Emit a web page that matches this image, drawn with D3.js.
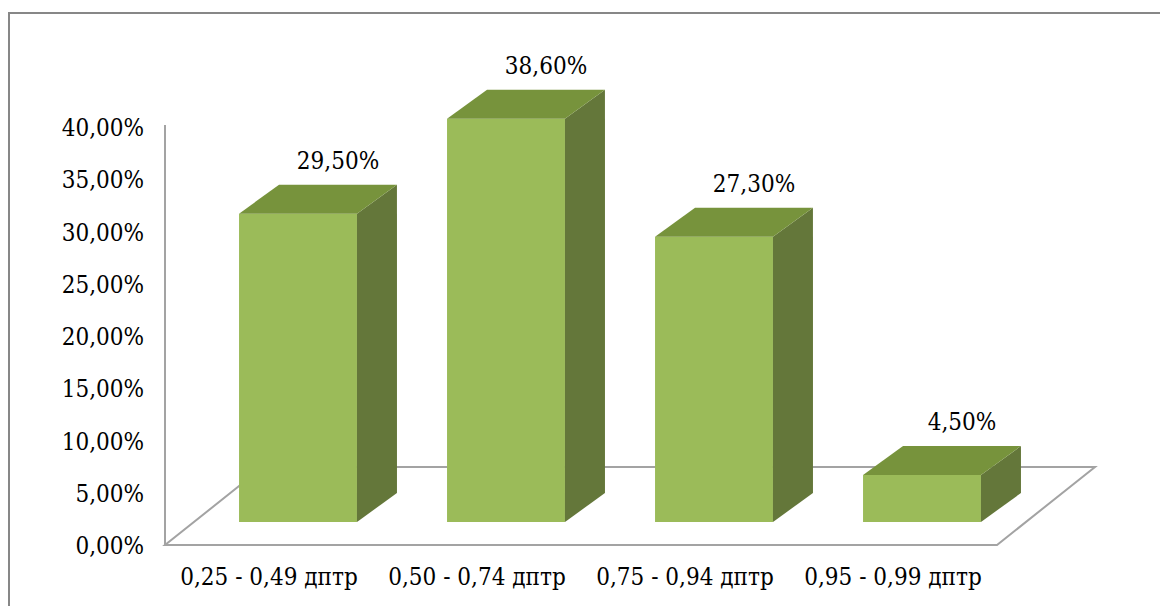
<!DOCTYPE html>
<html>
<head>
<meta charset="utf-8">
<script src="https://cdn.jsdelivr.net/npm/d3@7"></script>
<style>
  html, body { margin: 0; padding: 0; background: #ffffff; }
  svg { display: block; }
  svg text { font-stretch: condensed; }
</style>
</head>
<body>
<svg id="chart" width="1160" height="606"></svg>
<script>
// Distribution by refraction range
const categories = ["0,25 - 0,49 дптр", "0,50 - 0,74 дптр", "0,75 - 0,94 дптр", "0,95 - 0,99 дптр"];
const values = [29.5, 38.6, 27.3, 4.5];
const yTicks = [0, 5, 10, 15, 20, 25, 30, 35, 40];

const fmt = v => v.toFixed(2).replace(".", ",") + "%";
const FONT = "'DejaVu Serif Condensed', 'DejaVu Serif', serif";
const FS = 24;

const svg = d3.select("#chart")
  .attr("font-family", FONT);

// Chart frame
svg.append("path")
  .attr("d", "M9,606 V13 H1160")
  .attr("fill", "none")
  .attr("stroke", "#878787")
  .attr("stroke-width", 2);

// Plot geometry (front-left corner of the floor and the oblique depth vectors)
const x0 = 165, x1 = 997, yBase = 545;
const floorDepth = { dx: 98, dy: -78 };
const barInset = { dx: 29, dy: -23 };
const barDepth = { dx: 40, dy: -29 };

const y = d3.scaleLinear().domain([0, 40]).range([yBase, 127]);
const x = d3.scaleBand().domain(categories).range([x0, x1])
  .paddingInner(0.433).paddingOuter(0.2165);

// Floor
const floor = [
  [x0, yBase], [x1, yBase],
  [x1 + floorDepth.dx, yBase + floorDepth.dy],
  [x0 + floorDepth.dx, yBase + floorDepth.dy]
];
svg.append("path")
  .attr("d", d3.line()(floor) + "Z")
  .attr("fill", "none")
  .attr("stroke", "#a3a3a3")
  .attr("stroke-width", 2)
  .attr("stroke-linejoin", "miter");

// Vertical axis
svg.append("line")
  .attr("x1", x0).attr("x2", x0)
  .attr("y1", y(40) - 2).attr("y2", yBase)
  .attr("stroke", "#a3a3a3")
  .attr("stroke-width", 2);

svg.append("g").selectAll("text")
  .data(yTicks)
  .join("text")
  .attr("x", 144)
  .attr("y", d => y(d) + 1)
  .attr("text-anchor", "end")
  .attr("dominant-baseline", "central")
  .attr("font-family", FONT)
  .attr("font-size", FS)
  .attr("fill", "#000")
  .text(d => fmt(d));

// Bars
const colFront = "#9bbb59", colTop = "#77933c", colSide = "#64773a";
const bars = svg.append("g");
categories.forEach((c, i) => {
  const v = values[i];
  const xl = x(c) + barInset.dx;
  const xr = xl + x.bandwidth();
  const yb = yBase + barInset.dy;
  const yt = y(v) + barInset.dy;
  const g = bars.append("g");
  // front face
  g.append("path")
    .attr("d", d3.line()([[xl, yb], [xr, yb], [xr, yt], [xl, yt]]) + "Z")
    .attr("fill", colFront);
  // side face
  g.append("path")
    .attr("d", d3.line()([[xr, yb], [xr + barDepth.dx, yb + barDepth.dy],
      [xr + barDepth.dx, yt + barDepth.dy], [xr, yt]]) + "Z")
    .attr("fill", colSide);
  // top face
  g.append("path")
    .attr("d", d3.line()([[xl, yt], [xr, yt], [xr + barDepth.dx, yt + barDepth.dy],
      [xl + barDepth.dx, yt + barDepth.dy]]) + "Z")
    .attr("fill", colTop);
  // value label
  g.append("text")
    .attr("x", (xl + xr) / 2 + barDepth.dx)
    .attr("y", yt + barDepth.dy - 16)
    .attr("text-anchor", "middle")
    .attr("font-family", FONT)
    .attr("font-size", FS)
    .attr("fill", "#000")
    .text(fmt(v));
});

// Category labels
svg.append("g").selectAll("text")
  .data(categories)
  .join("text")
  .attr("x", d => x(d) + x.bandwidth() / 2)
  .attr("y", 585)
  .attr("text-anchor", "middle")
  .attr("font-family", FONT)
  .attr("font-size", FS)
  .attr("fill", "#000")
  .text(d => d);
</script>
</body>
</html>
